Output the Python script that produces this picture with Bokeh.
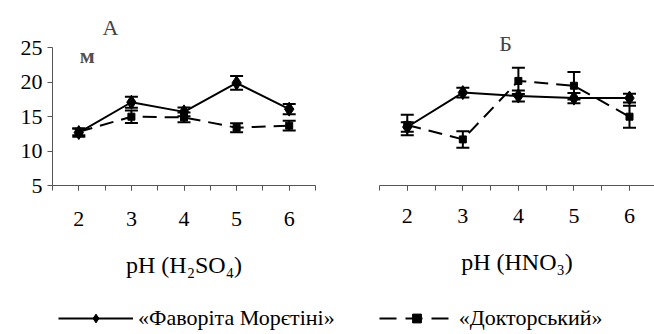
from bokeh.plotting import figure
from bokeh.layouts import row, column
from bokeh.models import (ColumnDataSource, Range1d, FixedTicker, Whisker, TeeHead,
                          Label, Legend, LegendItem)
from bokeh.embed import file_html
from bokeh.resources import INLINE

FONT = "Liberation Serif"

# pH levels on the x axis
ph = [2, 3, 4, 5, 6]

# Panel А: acidified with H2SO4
fav_h2so4 = [12.7, 17.1, 15.7, 19.9, 16.1]
fav_h2so4_err = [0.6, 0.8, 0.65, 1.0, 0.75]
doc_h2so4 = [12.8, 15.0, 14.9, 13.4, 13.7]
doc_h2so4_err = [0.5, 0.9, 0.7, 0.65, 0.7]

# Panel Б: acidified with HNO3
fav_hno3 = [13.5, 18.5, 18.0, 17.7, 17.7]
fav_hno3_err = [0.7, 0.7, 0.8, 0.75, 0.65]
doc_hno3 = [13.8, 11.7, 20.2, 19.5, 15.0]
doc_hno3_err = [1.5, 1.2, 1.9, 2.0, 1.6]

y_ticks = [5, 10, 15, 20, 25]
names = ["«Фаворіта Морєтіні»", "«Докторський»"]

AXIS_COLOR = "#555555"
SOLID = dict(line_width=2, line_color="black")
DASHED = dict(line_width=2, line_color="black", line_dash="14 8")


def err_source(y, e):
    return ColumnDataSource(dict(x=ph, lower=[a - b for a, b in zip(y, e)],
                                 upper=[a + b for a, b in zip(y, e)]))


def add_series(p, y, e, dashed):
    style = DASHED if dashed else SOLID
    p.line(ph, y, **style)
    w = Whisker(source=err_source(y, e), base="x", upper="upper", lower="lower",
                line_width=2, line_color="black",
                upper_head=TeeHead(size=13, line_width=2, line_color="black"),
                lower_head=TeeHead(size=13, line_width=2, line_color="black"))
    p.add_layout(w)
    if dashed:
        p.scatter(ph, y, marker="square", size=7, color="black")
    else:
        p.scatter(ph, y, marker="diamond", size=14, color="black")


def style_x(p, standoff):
    ax = p.xaxis[0]
    ax.ticker = FixedTicker(ticks=ph, minor_ticks=[1.5 + 0.5 * i for i in range(11)])
    ax.major_tick_out = 5
    ax.major_tick_in = 0
    ax.minor_tick_out = 5
    ax.minor_tick_in = 0
    ax.axis_line_color = AXIS_COLOR
    ax.major_tick_line_color = AXIS_COLOR
    ax.minor_tick_line_color = AXIS_COLOR
    ax.major_label_text_font = FONT
    ax.major_label_text_font_size = "22px"
    ax.major_label_text_color = "black"
    ax.major_label_standoff = standoff
    ax.axis_label_text_font = FONT
    ax.axis_label_text_font_size = "24px"
    ax.axis_label_text_font_style = "normal"
    ax.axis_label_text_color = "black"
    ax.axis_label_standoff = 23


def make_panel(xr, border_top, border_bottom, with_y):
    p = figure(width=327, height=290, x_range=xr, y_range=Range1d(5, 30),
               output_backend="svg", toolbar_location=None,
               y_axis_location="left" if with_y else None,
               min_border_left=52, min_border_right=12 if with_y else 0,
               min_border_top=border_top, min_border_bottom=border_bottom)
    p.outline_line_color = None
    p.grid.visible = False
    p.background_fill_color = "white"
    p.border_fill_color = "white"
    return p


# ---- panel А ----
p1 = make_panel(Range1d(1.5, 6.5), 10, 105, True)
add_series(p1, doc_h2so4, doc_h2so4_err, True)
add_series(p1, fav_h2so4, fav_h2so4_err, False)
p1.xaxis.axis_label = "pH (H₂SO₄)"
style_x(p1, 21)
ya = p1.yaxis[0]
ya.ticker = FixedTicker(ticks=y_ticks)
ya.bounds = (5, 25)
ya.major_tick_out = 5
ya.major_tick_in = 0
ya.minor_tick_line_color = None
ya.axis_line_color = AXIS_COLOR
ya.major_tick_line_color = AXIS_COLOR
ya.major_label_text_font = FONT
ya.major_label_text_font_size = "22px"
ya.major_label_text_color = "black"
ya.major_label_standoff = 5
p1.add_layout(Label(x=2.6, y=28.0, text="А", text_font=FONT, text_font_size="22px",
                    text_align="center", text_baseline="middle"))
p1.add_layout(Label(x=2.16, y=23.9, text="м", text_font=FONT, text_font_size="22px",
                    text_font_style="bold", text_color="#505050",
                    text_align="center", text_baseline="middle"))

# ---- panel Б ----
p2 = make_panel(Range1d(1.5, 6.45), 13, 102, False)
add_series(p2, doc_hno3, doc_hno3_err, True)
add_series(p2, fav_hno3, fav_hno3_err, False)
p2.xaxis.axis_label = "pH (HNO₃)"
style_x(p2, 18)
p2.add_layout(Label(x=3.77, y=25.7, text="Б", text_font=FONT, text_font_size="22px",
                    text_align="center", text_baseline="middle"))

# ---- shared legend strip ----
# the key renderers sit below the visible y range, so only their legend swatches show
pl = figure(width=654, height=44, x_range=Range1d(0, 1), y_range=Range1d(0, 1),
            output_backend="svg", toolbar_location=None,
            x_axis_location=None, y_axis_location=None, min_border=0)
pl.outline_line_color = None
pl.grid.visible = False
key = ColumnDataSource(dict(x=[0.2, 0.8], y=[-5, -5]))
l1 = pl.line("x", "y", source=key, **SOLID)
m1 = pl.scatter("x", "y", source=key, marker="diamond", size=14, color="black")
l2 = pl.line("x", "y", source=key, line_width=2, line_color="black", line_dash="17 9")
m2 = pl.scatter("x", "y", source=key, marker="square", size=7, color="black")
legend = Legend(items=[LegendItem(label=names[0], renderers=[l1, m1]),
                       LegendItem(label=names[1], renderers=[l2, m2])],
                orientation="horizontal", location=(58, 3),
                glyph_width=75, glyph_height=22, label_standoff=5, spacing=44,
                padding=0, margin=0, border_line_color=None, background_fill_alpha=0,
                label_text_font=FONT, label_text_font_size="22px",
                label_text_color="black")
pl.add_layout(legend)

layout = column(row(p1, p2, spacing=0), pl, spacing=0)
open("out.html", "w").write(file_html(layout, INLINE))
